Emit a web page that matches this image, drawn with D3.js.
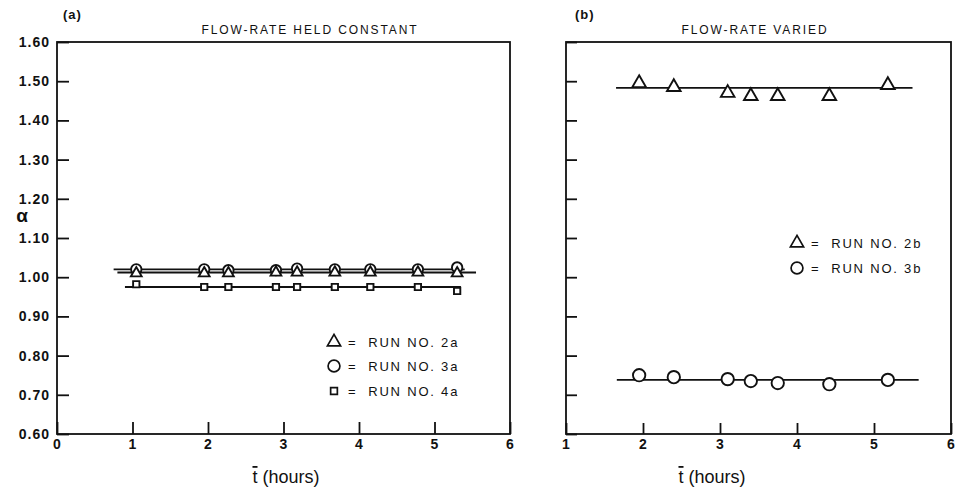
<!DOCTYPE html>
<html><head><meta charset="utf-8">
<script src="https://cdn.jsdelivr.net/npm/d3@7"></script>
<style>
body{margin:0;background:#fff;}
svg text{font-family:"Liberation Sans","DejaVu Sans",sans-serif;fill:#111;}
</style></head>
<body><svg id="c" width="958" height="490"></svg>
<script>
// ---- data ----
const yTicks = [0.6,0.7,0.8,0.9,1.0,1.1,1.2,1.3,1.4,1.5,1.6];
const xTicksA = [0,1,2,3,4,5,6];
const xTicksB = [1,2,3,4,5,6];
// panel (a): flow-rate held constant
const tA = [1.05,1.95,2.27,2.9,3.18,3.68,4.15,4.78,5.3];
const run2a = [1.010,1.010,1.010,1.012,1.012,1.012,1.012,1.012,1.010];
const run3a = [1.020,1.020,1.018,1.018,1.022,1.020,1.020,1.020,1.025];
const run4a = [0.982,0.975,0.975,0.975,0.975,0.975,0.975,0.975,0.965];
const fit2a = {t:[0.8,5.55], v:1.012};
const fit3a = {t:[0.75,5.4], v:1.020};
const fit4a = {t:[0.9,5.35], v:0.975};
// panel (b): flow-rate varied
const tB = [1.95,2.40,3.10,3.40,3.75,4.42,5.18];
const run2b = [1.495,1.485,1.470,1.462,1.462,1.462,1.490];
const run3b = [0.750,0.745,0.740,0.735,0.730,0.727,0.738];
const fit2b = {t:[1.65,5.5], v:1.483};
const fit3b = {t:[1.66,5.58], v:0.738};

const svg = d3.select("#c");
const y = d3.scaleLinear().domain([0.6,1.6]).range([434,42]);
const xA = d3.scaleLinear().domain([0,6]).range([57,510]);
const xB = d3.scaleLinear().domain([1,6]).range([566,951]);

function frame(x){
  const [x0,x1]=x.range();
  svg.append("rect").attr("x",x0).attr("y",y(1.6)).attr("width",x1-x0).attr("height",y(0.6)-y(1.6))
    .attr("fill","none").attr("stroke","#111").attr("stroke-width",1.8);
}
frame(xA); frame(xB);

// axes panel a
const gyA = svg.append("g").attr("transform",`translate(${xA.range()[0]},0)`)
  .call(d3.axisLeft(y).tickValues(yTicks).tickFormat(d3.format(".2f")).tickSizeInner(-12).tickSizeOuter(0).tickPadding(7));
const gxA = svg.append("g").attr("transform",`translate(0,${y(0.6)})`)
  .call(d3.axisBottom(xA).tickValues(xTicksA).tickFormat(d3.format("d")).tickSizeInner(-12).tickSizeOuter(0).tickPadding(5));
// axes panel b
const gyB = svg.append("g").attr("transform",`translate(${xB.range()[0]},0)`)
  .call(d3.axisLeft(y).tickValues(yTicks).tickFormat("").tickSizeInner(-11).tickSizeOuter(0));
const gxB = svg.append("g").attr("transform",`translate(0,${y(0.6)})`)
  .call(d3.axisBottom(xB).tickValues(xTicksB).tickFormat(d3.format("d")).tickSizeInner(-11).tickSizeOuter(0).tickPadding(5));
[gyA,gxA,gyB,gxB].forEach(g=>{
  g.select(".domain").remove();
  g.selectAll("line").attr("stroke","#111").attr("stroke-width",1.8);
  g.selectAll("text").attr("font-size",14).attr("font-weight","bold").attr("letter-spacing","1px").attr("fill","#111");
});

// fit lines
function fit(x,f,w){
  svg.append("line").attr("x1",x(f.t[0])).attr("x2",x(f.t[1])).attr("y1",y(f.v)).attr("y2",y(f.v))
    .attr("stroke","#111").attr("stroke-width",w||1.9);
}
fit(xA,fit3a); fit(xA,fit2a); fit(xA,fit4a);
fit(xB,fit2b); fit(xB,fit3b);

// markers
const sym = {
  tri:(s)=>d3.symbol().type(d3.symbolTriangle).size(s),
  circ:(s)=>d3.symbol().type(d3.symbolCircle).size(s),
  sq:(s)=>d3.symbol().type(d3.symbolSquare).size(s)
};
function pts(x,ts,vs,type,size){
  svg.append("g").selectAll("path").data(ts.map((t,i)=>[t,vs[i]])).join("path")
    .attr("d",sym[type](size)())
    .attr("transform",d=>`translate(${x(d[0])},${y(d[1])})`)
    .attr("fill","#fff").attr("stroke","#111").attr("stroke-width",1.9);
}
pts(xA,tA,run3a,"circ",85);
pts(xA,tA,run2a,"tri",50);
pts(xA,tA,run4a,"sq",40);
pts(xB,tB,run2b,"tri",80);
pts(xB,tB,run3b,"circ",120);

// legends
function legend(x0,yy,type,size,label){
  svg.append("path").attr("d",sym[type](size)()).attr("transform",`translate(${x0},${yy})`)
    .attr("fill","#fff").attr("stroke","#111").attr("stroke-width",1.7);
  svg.append("text").attr("x",x0+14).attr("y",yy).attr("dy","0.36em").attr("font-size",13)
    .attr("letter-spacing","1.8px").attr("xml:space","preserve").text("=  " + label);
}
legend(334,342,"tri",75,"RUN NO. 2a");
legend(334,366,"circ",110,"RUN NO. 3a");
legend(334,391,"sq",45,"RUN NO. 4a");
legend(797,243,"tri",75,"RUN NO. 2b");
legend(797,268,"circ",110,"RUN NO. 3b");

// titles
svg.append("text").attr("x",63).attr("y",19).attr("font-size",13).attr("font-weight","bold").attr("letter-spacing","1px").text("(a)");
svg.append("text").attr("x",575).attr("y",19).attr("font-size",13).attr("font-weight","bold").attr("letter-spacing","1px").text("(b)");
svg.append("text").attr("x",310).attr("y",34).attr("text-anchor","middle").attr("font-size",12)
  .attr("letter-spacing","1.9px").text("FLOW-RATE HELD CONSTANT");
svg.append("text").attr("x",755).attr("y",34).attr("text-anchor","middle").attr("font-size",12)
  .attr("letter-spacing","1.9px").text("FLOW-RATE VARIED");
svg.append("text").attr("x",22).attr("y",222).attr("text-anchor","middle").attr("font-size",19)
  .attr("font-weight","bold").text("α");

// x labels
function xlabel(cx){
  const t = svg.append("text").attr("x",cx).attr("y",483).attr("text-anchor","middle").attr("font-size",18);
  t.append("tspan").attr("text-decoration","overline").text("t");
  t.append("tspan").text(" (hours)");
}
xlabel(286); xlabel(712);
</script></body></html>
